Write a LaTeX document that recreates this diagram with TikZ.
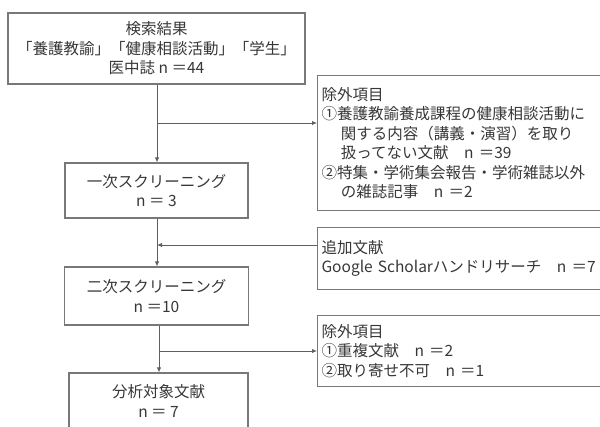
\documentclass[tikz,border=0pt]{standalone}
\usepackage{fontspec}
\setmainfont{Noto Sans CJK JP}
\usetikzlibrary{arrows.meta}
\definecolor{boxgray}{RGB}{120,120,120}
\definecolor{linegray}{RGB}{95,95,95}
\definecolor{txt}{RGB}{55,55,55}
\begin{document}
\begin{tikzpicture}[x=1pt,y=-1pt,
  box/.style={draw=boxgray, line width=1.1pt, inner sep=0pt, text=txt,
    font=\fontsize{15.5}{19.5}\selectfont, align=center},
  lbox/.style={draw=boxgray, line width=1.1pt, inner xsep=4pt, inner ysep=0pt, text=txt,
    font=\fontsize{15.5}{19.5}\selectfont, align=left, text width=285pt, anchor=north west},
  conn/.style={draw=linegray, line width=0.9pt},
  arr/.style={conn, -{Latex[length=5pt,width=4.5pt]}}
]
\path[use as bounding box, clip] (0,0) rectangle (600,426);

\node[box, minimum width=297pt, minimum height=71pt] (b1) at (156.5,48.5)
  {検索結果\\「養護教諭」「健康相談活動」「学生」\\医中誌 n ＝44};
\node[box, minimum width=183pt, minimum height=55pt] (b2) at (156.5,190.5)
  {一次スクリーニング\\n ＝ 3};
\node[box, minimum width=184pt, minimum height=58pt] (b3) at (156.5,296)
  {二次スクリーニング\\n ＝10};
\node[box, minimum width=179pt, minimum height=56pt] (b4) at (158.5,401)
  {分析対象文献\\n ＝ 7};

\node[lbox, minimum height=135pt] (e1) at (317,75)
  {除外項目\\
   ①養護教諭養成課程の健康相談活動に\\
   \hspace*{1.25em}関する内容（講義・演習）を取り\\
   \hspace*{1.25em}扱ってない文献　n ＝39\\
   ②特集・学術集会報告・学術雑誌以外\\
   \hspace*{1.25em}の雑誌記事　n ＝2};
\node[lbox, minimum height=62pt] (ad) at (317,227)
  {追加文献\\Google Scholarハンドリサーチ　n ＝7};
\node[lbox, minimum height=71pt] (e2) at (317,315)
  {除外項目\\①重複文献　n ＝2\\②取り寄せ不可　n ＝1};

\coordinate (j1) at (157,123);
\coordinate (j2) at (157,245);
\coordinate (j3) at (159,351);

\draw[arr] (b1.south -| j1) -- (b2.north -| j1);
\draw[arr] (j1) -- (e1.west |- j1);
\draw[arr] (b2.south -| j2) -- (b3.north -| j2);
\draw[arr] (ad.west |- j2) -- (j2);
\draw[arr] (b3.south -| j3) -- (b4.north -| j3);
\draw[arr] (j3) -- (e2.west |- j3);
\end{tikzpicture}
\end{document}
